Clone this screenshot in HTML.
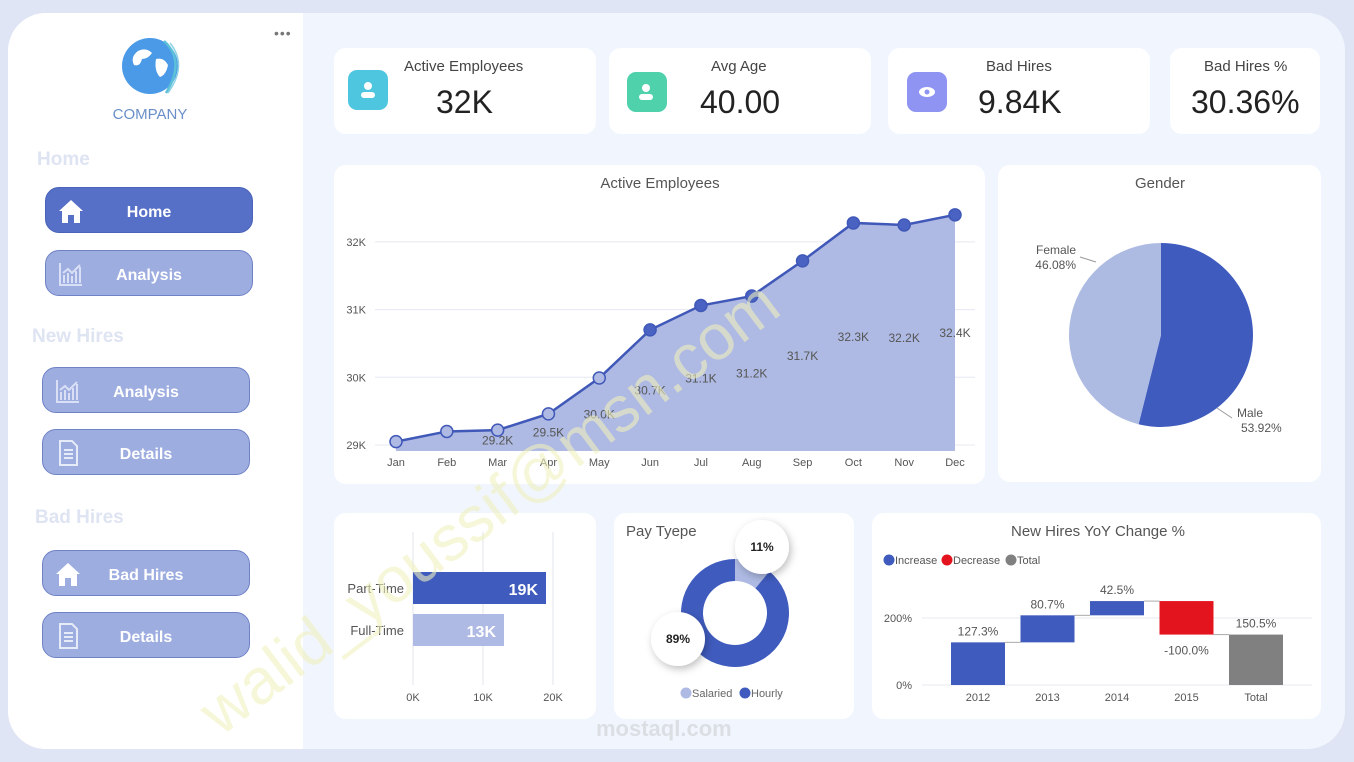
<!DOCTYPE html>
<html><head><meta charset="utf-8">
<style>
*{margin:0;padding:0;box-sizing:border-box}
body{width:1354px;height:762px;overflow:hidden;background:#dfe5f4;font-family:"Liberation Sans",sans-serif;position:relative}
.page{position:absolute;left:8px;top:13px;width:1337px;height:736px;border-radius:38px;background:#f1f6fe;overflow:hidden}
.side{position:absolute;left:0;top:0;width:295px;height:736px;background:#fff}
.sec{position:absolute;color:#dfe4f3;font-weight:bold;font-size:19px}
.btn{position:absolute;width:208px;height:46px;border-radius:14px;background:#9eade0;border:1px solid #6f82c6;color:#fff;font-weight:bold;font-size:16px;display:flex;align-items:center;justify-content:center;padding-top:5px}
.btn.act{background:#5570c6;border-color:#4a63b8}
.btn .ic{position:absolute;left:12px;top:10px;width:26px;height:26px}
.card{position:absolute;background:#fff;border-radius:12px}
.kt{position:absolute;font-size:15px;color:#444;text-align:center}
.kv{position:absolute;font-size:32px;color:#222;text-align:center}
.kic{position:absolute;width:40px;height:40px;border-radius:9px}
svg text{font-family:"Liberation Sans",sans-serif}
</style></head><body>
<div class="page">
 <div class="side">
  <svg style="position:absolute;left:100px;top:20px" width="90" height="90">
   <circle cx="42" cy="33" r="28" fill="#4a9ae8"/>
   <path d="M30 18 q8 -4 14 2 q-4 6 -10 6 q-2 8 -8 6 q-4 -8 4 -14z M48 26 q8 -2 12 6 q-2 10 -8 12 q-6 -6 -4 -18z" fill="#fff"/>
   <path d="M56 8 q22 20 2 52" stroke="#5cc0d8" stroke-width="2.5" fill="none"/>
   <path d="M62 10 q18 22 -2 50" stroke="#8fd3e4" stroke-width="1.5" fill="none"/>
   <text x="42" y="86" text-anchor="middle" font-size="15" fill="#6a8fc8">COMPANY</text>
  </svg>
  <div style="position:absolute;left:266px;top:12px;color:#777;font-size:14px;letter-spacing:1px">•••</div>
  <div class="sec" style="left:29px;top:136px">Home</div>
  <div class="btn act" style="left:37px;top:174px"><svg class="ic" viewBox="0 0 26 26"><path d="M13 2 L25 13 H22 V25 H16 V17 H10 V25 H4 V13 H1Z" fill="#fff"/></svg>Home</div>
  <div class="btn" style="left:37px;top:237px"><svg class="ic" viewBox="0 0 26 26"><path d="M2 2V24H24M6 22V14M10 22V12M14 22V15M18 22V10M22 22V6M5 12 L10 8 L14 12 L22 4" stroke="#d9e0f5" stroke-width="2" fill="none"/></svg>Analysis</div>
  <div class="sec" style="left:24px;top:313px">New Hires</div>
  <div class="btn" style="left:34px;top:354px"><svg class="ic" viewBox="0 0 26 26"><path d="M2 2V24H24M6 22V14M10 22V12M14 22V15M18 22V10M22 22V6M5 12 L10 8 L14 12 L22 4" stroke="#d9e0f5" stroke-width="2" fill="none"/></svg>Analysis</div>
  <div class="btn" style="left:34px;top:416px"><svg class="ic" viewBox="0 0 26 26"><path d="M5 1H17L22 6V25H5Z M9 10H18M9 14H18M9 18H18" stroke="#e6ebf8" stroke-width="2" fill="none"/></svg>Details</div>
  <div class="sec" style="left:27px;top:494px">Bad Hires</div>
  <div class="btn" style="left:34px;top:537px"><svg class="ic" viewBox="0 0 26 26"><path d="M13 2 L25 13 H22 V25 H16 V17 H10 V25 H4 V13 H1Z" fill="#fff"/></svg>Bad Hires</div>
  <div class="btn" style="left:34px;top:599px"><svg class="ic" viewBox="0 0 26 26"><path d="M5 1H17L22 6V25H5Z M9 10H18M9 14H18M9 18H18" stroke="#e6ebf8" stroke-width="2" fill="none"/></svg>Details</div>
 </div>

 <div class="card" style="left:326px;top:35px;width:262px;height:86px">
  <div class="kic" style="left:14px;top:22px;background:#4fc6e0"></div>
  <svg style="position:absolute;left:24px;top:32px" width="20" height="20"><circle cx="10" cy="6" r="4" fill="#fff"/><rect x="3" y="12" width="14" height="6" rx="3" fill="#fff"/></svg>
  <div class="kt" style="left:70px;top:10px">Active Employees</div>
  <div class="kv" style="left:102px;top:36px">32K</div>
 </div>
 <div class="card" style="left:601px;top:35px;width:262px;height:86px">
  <div class="kic" style="left:18px;top:24px;background:#4fd1ac"></div>
  <svg style="position:absolute;left:28px;top:34px" width="20" height="20"><circle cx="9" cy="6" r="4" fill="#fff"/><rect x="2" y="12" width="14" height="6" rx="3" fill="#fff"/></svg>
  <div class="kt" style="left:102px;top:10px">Avg Age</div>
  <div class="kv" style="left:91px;top:36px">40.00</div>
 </div>
 <div class="card" style="left:880px;top:35px;width:262px;height:86px">
  <div class="kic" style="left:19px;top:24px;background:#8f94f2"></div>
  <svg style="position:absolute;left:29px;top:34px" width="20" height="20"><ellipse cx="10" cy="10" rx="8" ry="5" fill="#fff"/><circle cx="10" cy="10" r="2.5" fill="#8f94f2"/></svg>
  <div class="kt" style="left:98px;top:10px">Bad Hires</div>
  <div class="kv" style="left:90px;top:36px">9.84K</div>
 </div>
 <div class="card" style="left:1162px;top:35px;width:150px;height:86px">
  <div class="kt" style="left:34px;top:10px">Bad Hires %</div>
  <div class="kv" style="left:21px;top:36px">30.36%</div>
 </div>

 <div class="card" style="left:326px;top:152px;width:651px;height:319px"></div>
 <div class="card" style="left:990px;top:152px;width:323px;height:317px"></div>
 <div class="card" style="left:326px;top:500px;width:262px;height:206px"></div>
 <div class="card" style="left:606px;top:500px;width:240px;height:206px"></div>
 <div class="card" style="left:864px;top:500px;width:449px;height:206px"></div>
</div>

<svg id="charts" style="position:absolute;left:0;top:0" width="1354" height="762"></svg>

<div style="position:absolute;font-size:64px;color:rgba(240,240,190,0.6);transform:rotate(-37deg);transform-origin:0 0;white-space:nowrap;top:690px;left:185px">walid_youssif@msn.com</div>
<div style="position:absolute;left:596px;top:716px;font-size:22px;color:rgba(170,170,170,0.3);font-weight:bold">mostaql.com</div>

<script>
const months=["Jan","Feb","Mar","Apr","May","Jun","Jul","Aug","Sep","Oct","Nov","Dec"];
const activeVals=[29.05,29.2,29.22,29.46,29.99,30.7,31.06,31.2,31.72,32.28,32.25,32.4];
const activeLabels=["","","29.2K","29.5K","30.0K","30.7K","31.1K","31.2K","31.7K","32.3K","32.2K","32.4K"];
const activeTicks=[29,30,31,32];
const genderCats=["Male","Female"];
const genderVals=[53.92,46.08];
const empCats=["Part-Time","Full-Time"];
const empVals=[19,13];
const empTicks=[0,10,20];
const payCats=["Salaried","Hourly"];
const payVals=[11,89];
const yoyCats=["2012","2013","2014","2015","Total"];
const yoyVals=[127.3,80.7,42.5,-100.0,150.5];
const yoyTicks=[0,200];

const S=document.getElementById('charts');
const NS="http://www.w3.org/2000/svg";
function mk(tag,a,txt){const e=document.createElementNS(NS,tag);for(const k in a)e.setAttribute(k,a[k]);if(txt!==undefined)e.textContent=txt;S.appendChild(e);return e;}

const lx=i=>396+i*(955-396)/11, ly=v=>445-(v-29)*67.7, base=451;
let t=mk('text',{x:660,y:188,'text-anchor':'middle','font-size':15,fill:'#555'},'Active Employees');

activeTicks.forEach(v=>{let g=mk('line',{x1:375,x2:975,y1:ly(v),y2:ly(v),stroke:'#e6e8f2'});

let l=mk('text',{x:366,y:ly(v)+4,'text-anchor':'end','font-size':11,fill:'#555'},v+'K');
});
let ad="M"+lx(0)+","+base;activeVals.forEach((v,i)=>ad+=" L"+lx(i)+","+ly(v));ad+=" L"+lx(11)+","+base+"Z";
let ar=mk('path',{d:ad,fill:'#aebae3'});
let ld="";activeVals.forEach((v,i)=>ld+=(i?" L":"M")+lx(i)+","+ly(v));
let ln=mk('path',{d:ld,fill:'none',stroke:'#4058b8','stroke-width':2.5});
activeVals.forEach((v,i)=>{const c=mk('circle',{cx:lx(i),cy:ly(v),r:6,fill:i>=5?'#4a63c2':'#aebae3',stroke:'#4058b8','stroke-width':1.5});

const l=mk('text',{x:lx(i),y:(ly(v)+base)/2+4,'text-anchor':'middle','font-size':12,fill:'#555'},activeLabels[i]);

const m=mk('text',{x:lx(i),y:466,'text-anchor':'middle','font-size':11,fill:'#555'},months[i]);
});

t=mk('text',{x:1160,y:188,'text-anchor':'middle','font-size':15,fill:'#555'},'Gender');

const pcx=1161,pcy=335,pr=92;let ang=0;const pcol=['#3f5bbd','#adbbe3'];
genderVals.forEach((v,i)=>{const a0=ang,a1=ang+v/100*2*Math.PI;ang=a1;
const x0=pcx+pr*Math.sin(a0),y0=pcy-pr*Math.cos(a0),x1=pcx+pr*Math.sin(a1),y1=pcy-pr*Math.cos(a1);
const p=mk('path',{d:`M${pcx},${pcy} L${x0},${y0} A${pr},${pr} 0 ${a1-a0>Math.PI?1:0} 1 ${x1},${y1}Z`,fill:pcol[i]});
});
[[1237,417,genderCats[0],genderVals[0],'start'],[1076,254,genderCats[1],genderVals[1],'end']].forEach(([x,y,c,v,an])=>{
const a=mk('text',{x:x,y:y,'text-anchor':an,'font-size':12,fill:'#555'},c);
const b=mk('text',{x:x+(an=='start'?4:0),y:y+15,'text-anchor':an,'font-size':12,fill:'#555'},v.toFixed(2)+'%');});
mk('path',{d:'M1217,408 L1232,418',stroke:'#999',fill:'none'});mk('path',{d:'M1080,257 L1096,262',stroke:'#999',fill:'none'});

const bx=v=>413+v*7;
empTicks.forEach(v=>{if(v>0){let g=mk('line',{x1:bx(v),x2:bx(v),y1:532,y2:685,stroke:'#e3e5ee'});}
let l=mk('text',{x:bx(v),y:701,'text-anchor':'middle','font-size':11,fill:'#555'},v+'K');});
mk('line',{x1:413,x2:413,y1:532,y2:685,stroke:'#e3e5ee'});
empVals.forEach((v,i)=>{const y=572+i*42;
const r=mk('rect',{x:413,y:y,width:bx(v)-413,height:32,fill:i?'#aebae3':'#3f5bbd'});
const a=mk('text',{x:404,y:y+21,'text-anchor':'end','font-size':13,fill:'#555'},empCats[i]);
const b=mk('text',{x:bx(v)-8,y:y+23,'text-anchor':'end','font-size':16,'font-weight':'bold',fill:'#fff'},v+'K');});

t=mk('text',{x:626,y:536,'font-size':15,fill:'#555'},'Pay Tyepe');
const dcx=735,dcy=613,R=54,r=32;ang=0;const dcol=['#aebae3','#3f5bbd'];
payVals.forEach((v,i)=>{const a0=ang,a1=ang+v/100*2*Math.PI;ang=a1;const L=a1-a0>Math.PI?1:0;
const P=(rr,a)=>[dcx+rr*Math.sin(a),dcy-rr*Math.cos(a)];
const [x0,y0]=P(R,a0),[x1,y1]=P(R,a1),[x2,y2]=P(r,a1),[x3,y3]=P(r,a0);
const p=mk('path',{d:`M${x0},${y0} A${R},${R} 0 ${L} 1 ${x1},${y1} L${x2},${y2} A${r},${r} 0 ${L} 0 ${x3},${y3}Z`,fill:dcol[i]});
});
const defs=mk('defs',{});defs.innerHTML='<filter id="sh" x="-50%" y="-50%" width="200%" height="200%"><feDropShadow dx="2" dy="3" stdDeviation="4" flood-color="#000" flood-opacity="0.25"/></filter>';
[[762,547,payVals[0]],[678,639,payVals[1]]].forEach(([x,y,v])=>{const c=mk('circle',{cx:x,cy:y,r:27,fill:'#fff',filter:'url(#sh)'});
const l=mk('text',{x:x,y:y+4,'text-anchor':'middle','font-size':12,'font-weight':'bold',fill:'#222'},v+'%');});
[[686,697,dcol[0],payCats[0]],[745,697,dcol[1],payCats[1]]].forEach(([x,y,c,n])=>{mk('circle',{cx:x,cy:y-4,r:5.5,fill:c});
const l=mk('text',{x:x+6,y:y,'font-size':11,fill:'#666'},n);});

t=mk('text',{x:1098,y:536,'text-anchor':'middle','font-size':15,fill:'#555'},'New Hires YoY Change %');
[['#3f5bbd','Increase',889],['#e3141e','Decrease',947],['#808080','Total',1011]].forEach(([c,n,x])=>{mk('circle',{cx:x,cy:560,r:5.5,fill:c});
const l=mk('text',{x:x+6,y:564,'font-size':11,fill:'#555'},n);});
const wy=v=>685-v*0.335, wx=i=>978+i*69.5;
yoyTicks.forEach(v=>{let g=mk('line',{x1:922,x2:1312,y1:wy(v),y2:wy(v),stroke:'#e6e8f2'});
let l=mk('text',{x:912,y:wy(v)+4,'text-anchor':'end','font-size':11,fill:'#555'},v+'%');});
let cum=0;
yoyVals.forEach((v,i)=>{const last=i==yoyVals.length-1;let a,b,col;
if(last){a=0;b=v;col='#808080';}else{a=cum;b=cum+v;cum=b;col=v>=0?'#3f5bbd':'#e3141e';}
const top=Math.max(a,b),bot=Math.min(a,b);
const rc=mk('rect',{x:wx(i)-27,y:wy(top),width:54,height:wy(bot)-wy(top),fill:col});
if(i<yoyVals.length-1){mk('line',{x1:wx(i)+27,x2:wx(i+1)-27,y1:wy(b),y2:wy(b),stroke:'#aaa'});}
const ly2=v>=0?wy(top)-7:wy(bot)+20;
const l=mk('text',{x:wx(i),y:ly2,'text-anchor':'middle','font-size':12,fill:'#555'},v.toFixed(1)+'%');
const x=mk('text',{x:wx(i),y:701,'text-anchor':'middle','font-size':11,fill:'#555'},yoyCats[i]);});
</script>
</body></html>
